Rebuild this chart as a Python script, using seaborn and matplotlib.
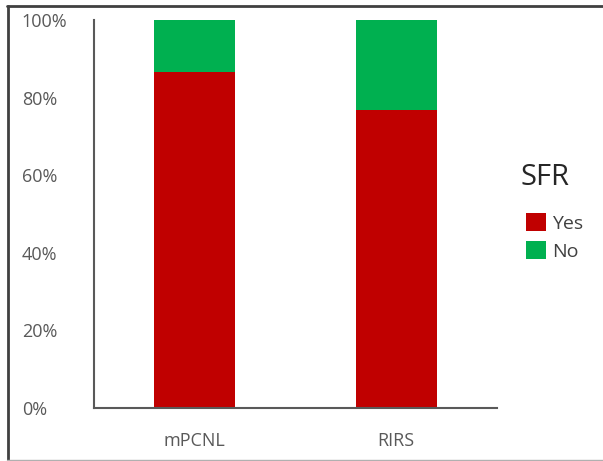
import matplotlib
matplotlib.use("Agg")
import matplotlib.pyplot as plt
import seaborn as sns
import pandas as pd
from matplotlib.patches import Patch
from matplotlib.lines import Line2D

# Stone-free rate by procedure (share of patients)
groups = ["mPCNL", "RIRS"]
yes_share = [0.867, 0.768]
no_share = [0.133, 0.232]
tick_values = [0, 0.2, 0.4, 0.6, 0.8, 1.0]
tick_labels = ["0%", "20%", "40%", "60%", "80%", "100%"]

RED = "#C00000"
GREEN = "#00B050"
GRAY = "#595959"

sns.set_theme(style="white")
plt.rcParams["font.family"] = ["Open Sans", "DejaVu Sans"]

df = pd.DataFrame({"group": groups, "Yes": yes_share, "No": no_share})
df["total"] = df["Yes"] + df["No"]

W, H = 603, 461
fig = plt.figure(figsize=(W / 100, H / 100), dpi=100)
ax = fig.add_axes([94 / W, 1 - 408 / H, (497 - 94) / W, (408 - 20) / H])

# stacked bars: full height in green, "Yes" part in red on top of it
sns.barplot(data=df, x="group", y="total", color=GREEN, width=0.4,
            saturation=1, ax=ax, edgecolor="none")
sns.barplot(data=df, x="group", y="Yes", color=RED, width=0.4,
            saturation=1, ax=ax, edgecolor="none")

ax.set_ylim(0, 1.0)
ax.set_xlim(-0.5, 1.5)
ax.set_yticks(tick_values)
ax.set_yticklabels(tick_labels)
ax.set_xlabel("")
ax.set_ylabel("")

for side in ["top", "right"]:
    ax.spines[side].set_visible(False)
for side in ["left", "bottom"]:
    ax.spines[side].set_color(GRAY)
    ax.spines[side].set_linewidth(1.5)

ax.tick_params(axis="y", length=0, pad=52, labelsize=13, labelcolor=GRAY)
ax.tick_params(axis="x", length=0, pad=17, labelsize=13, labelcolor=GRAY)
for lbl in ax.get_yticklabels():
    lbl.set_horizontalalignment("left")

# legend: title drawn as its own text, entries below it
fig.text(521 / W, 1 - 177 / H, "SFR", fontsize=21, color="#262626",
         ha="left", va="center")
handles = [Patch(facecolor=RED, edgecolor="none", label="Yes"),
           Patch(facecolor=GREEN, edgecolor="none", label="No")]
leg = fig.legend(handles=handles, loc="upper left",
                 bbox_to_anchor=(526 / W, 1 - 213 / H), frameon=False,
                 borderpad=0, borderaxespad=0,
                 fontsize=14, handlelength=1.03, handleheight=1.03,
                 handletextpad=0.3, labelspacing=0.45)
for t in leg.get_texts():
    t.set_color("#404040")

# page frame: dark top and left edges, light bottom edge
fig.lines.append(Line2D([7 / W, 1.0], [1 - 6.5 / H, 1 - 6.5 / H],
                        transform=fig.transFigure, color="#404040", lw=2))
fig.lines.append(Line2D([7.5 / W, 7.5 / W], [1 - 6 / H, 1 - 460 / H],
                        transform=fig.transFigure, color="#404040", lw=2))
fig.lines.append(Line2D([7 / W, 1.0], [1 - 460 / H, 1 - 460 / H],
                        transform=fig.transFigure, color="#B0B0B0", lw=1))

fig.savefig("out.png", dpi=100)
